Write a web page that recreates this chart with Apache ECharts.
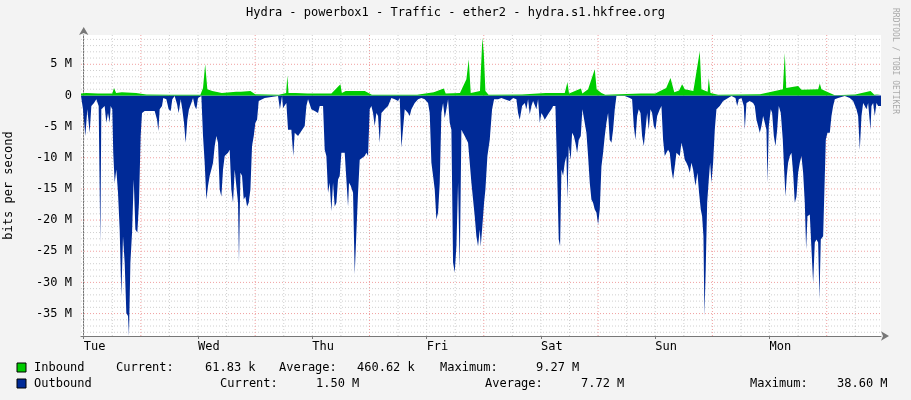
<!DOCTYPE html>
<html><head><meta charset="utf-8">
<script src="https://cdn.jsdelivr.net/npm/echarts@6/dist/echarts.min.js"></script>
<style>html,body{margin:0;padding:0;background:#f3f3f3}#c{width:911px;height:400px}</style>
</head><body><div id="c"></div>
<script>
// time in hours from Tue 00:00, values in Mbit/s
const outHours = [-0.57,-0.5,-0.15,0.34,0.76,1.25,1.6,2.16,2.65,3.14,3.49,3.7,4.4,4.75,5.1,5.45,5.66,6.0,6.2,6.5,6.85,7.2,7.55,7.9,8.25,8.6,8.95,9.3,9.5,9.8,10.15,10.5,10.85,11.26,11.6,11.96,12.24,12.8,14.9,15.4,15.67,15.95,16.44,16.7,17.35,17.84,18.26,18.6,19.1,19.6,19.94,20.36,20.7,21.06,21.4,21.76,22.1,22.6,22.95,23.3,23.65,24.0,24.7,25.05,25.4,25.75,26.1,26.45,26.8,27.15,27.5,27.85,28.2,28.55,28.9,29.25,29.6,30.3,30.65,31.0,31.35,31.7,32.05,32.4,32.6,32.9,33.24,33.6,33.94,34.3,34.64,35.0,35.34,35.7,36.04,36.4,36.74,38.0,40.8,41.2,41.64,41.85,42.55,42.9,43.6,44.0,44.3,45.0,45.7,46.4,46.75,47.1,47.8,48.5,49.2,49.55,50.25,50.6,50.95,51.3,51.65,52.0,52.35,52.7,53.05,53.4,53.75,54.1,54.8,55.15,55.5,55.7,56.06,56.55,56.9,57.25,57.6,57.95,58.3,59.0,59.35,59.7,60.05,60.4,60.75,61.1,61.45,61.8,62.15,62.5,63.2,63.9,64.6,65.3,66.0,66.35,66.7,67.05,67.4,68.1,68.45,68.8,69.5,70.2,70.9,71.6,72.3,72.65,73.0,73.35,73.7,74.05,74.4,74.75,75.1,75.45,75.8,76.15,76.5,76.85,77.2,77.55,77.9,78.25,78.6,78.95,79.3,79.65,80.0,80.7,81.4,81.75,82.1,82.45,82.8,83.15,83.36,83.64,84.06,84.34,84.76,85.25,85.74,86.16,87.0,87.7,88.4,89.45,90.15,90.85,91.2,91.55,91.76,92.04,92.6,92.95,93.3,93.65,94.0,94.35,95.05,95.4,95.75,96.1,96.45,96.8,97.5,98.2,98.55,99.04,99.39,99.74,100.02,100.3,100.65,101.0,101.35,101.56,101.84,102.26,102.54,102.9,103.24,103.6,103.94,104.36,104.7,105.06,105.55,105.9,106.25,106.6,106.95,107.3,107.65,108.0,108.35,108.7,109.05,109.4,109.75,110.1,110.45,110.8,111.15,111.5,111.85,113.6,114.65,115.14,115.5,115.84,116.2,116.54,116.9,117.24,117.6,117.94,118.3,118.64,119.0,119.34,119.7,120.04,120.4,120.96,121.3,121.65,122.0,122.35,122.7,123.05,123.4,123.75,124.1,124.45,124.8,125.15,125.5,125.85,126.2,126.55,126.9,127.25,127.6,127.95,128.44,128.86,129.2,129.56,129.84,130.12,130.33,130.6,130.9,131.24,131.52,131.8,132.15,132.5,132.85,133.2,133.55,134.25,135.3,136.0,136.84,137.2,137.54,138.1,138.6,138.8,139.15,139.85,140.55,140.9,141.25,141.6,141.95,142.3,142.65,143.0,143.35,143.56,143.84,144.26,144.54,144.9,145.24,145.6,145.94,146.36,146.78,147.06,147.34,147.62,147.9,148.25,148.6,148.95,149.3,149.65,150.0,150.35,150.7,151.05,151.4,151.68,151.96,152.45,152.8,153.15,153.5,153.85,154.2,154.48,154.76,155.25,155.6,155.81,156.16,156.65,157.0,157.35,157.7,158.4,159.8,160.85,161.55,162.25,162.6,162.95,163.3,163.65,164.0,164.35,164.7,165.19,165.4,165.75,166.1,166.45,166.8,167.15,167.4];
const outValues = [0.1,0.1,2.2,6.5,2.2,6.0,1.7,1.2,0.6,1.7,23.6,2.2,1.7,4.4,2.8,4.4,1.7,2.2,9.2,14.0,11.9,15.6,21.5,32.2,22.6,26.8,34.9,35.4,38.6,26.8,22.0,13.5,21.5,22.0,17.2,6.5,2.8,2.5,2.5,3.9,5.7,2.2,1.7,0.4,0.6,2.2,2.5,0.6,0.1,1.4,2.8,0.6,2.2,4.4,7.6,3.9,2.2,1.2,0.4,1.7,2.2,0.4,0.1,6.5,10.8,16.7,14.5,12.9,11.9,10.8,8.1,6.5,7.6,15.1,16.2,11.9,9.7,9.2,8.7,15.1,17.2,11.9,11.9,17.2,26.8,12.4,12.9,16.7,16.2,17.8,17.2,15.1,8.1,6.5,4.4,3.9,0.9,0.4,0.1,2.2,0.1,2.0,1.2,5.5,5.5,9.7,6.0,6.5,5.7,4.9,1.7,0.6,2.2,2.5,2.8,1.7,1.7,8.7,9.7,15.6,14.0,18.6,14.0,17.8,17.2,13.5,12.9,9.2,9.2,9.2,17.8,14.0,14.5,15.6,28.7,22.0,15.6,10.3,10.3,9.7,9.2,9.7,2.2,1.7,2.8,4.9,2.8,3.3,7.6,2.8,2.2,1.7,0.4,0.6,0.9,0.4,8.4,8.1,2.2,2.8,3.3,2.2,1.2,0.6,0.4,0.6,1.2,2.8,10.8,12.9,15.1,19.9,18.8,14.0,2.8,1.2,3.6,2.2,0.6,4.4,5.5,26.8,28.4,24.2,14.0,27.8,5.5,5.5,6.5,7.6,14.0,16.7,19.4,22.6,24.2,21.5,24.2,21.5,17.2,15.1,9.7,7.1,2.2,0.6,0.6,0.4,0.6,0.9,0.4,0.6,2.8,3.9,4.1,1.7,1.2,2.2,0.6,3.0,1.7,0.9,2.2,0.6,4.4,2.8,3.3,3.9,3.0,2.2,1.7,1.7,11.9,23.1,24.2,11.9,12.9,10.8,9.7,16.7,8.1,10.3,6.0,6.5,7.6,9.2,7.1,6.5,2.2,2.0,6.0,9.7,14.0,16.7,17.2,18.3,18.8,20.7,18.3,11.4,9.2,6.5,4.4,2.8,7.1,7.6,5.5,2.2,0.1,0.1,0.4,0.6,4.9,7.1,3.3,2.2,2.8,6.5,8.1,5.5,2.8,5.5,2.2,2.8,4.9,5.5,3.3,2.2,1.7,7.1,9.7,9.2,8.7,9.2,11.9,13.5,11.4,9.2,9.2,9.7,7.6,8.7,10.3,10.8,11.4,12.4,10.8,11.9,14.5,12.4,15.6,18.3,19.4,22.6,35.4,27.8,17.2,13.5,10.8,14.0,10.8,5.5,2.2,2.0,1.7,0.9,0.4,0.1,0.4,1.7,0.6,0.4,1.7,5.5,1.2,0.9,1.2,1.7,3.9,4.9,6.0,4.9,3.3,4.4,5.5,14.0,4.9,2.2,2.8,6.5,8.1,5.5,1.7,2.8,7.1,11.9,16.2,12.9,10.8,9.7,9.2,12.4,17.2,16.2,12.4,10.8,9.7,12.4,17.2,24.7,19.4,19.1,19.4,30.1,23.6,23.1,23.6,32.7,23.1,22.6,22.6,7.1,6.0,6.0,3.3,1.7,0.6,0.4,0.1,0.4,0.9,2.2,3.3,8.7,3.3,1.2,1.7,2.2,1.2,5.5,1.7,1.2,3.3,1.2,1.7,2.0,1.7];
const inHours = [-0.57,0.5,3.0,6.0,6.36,6.8,8.0,11.0,13.15,18.0,24.5,25.05,25.5,25.96,27.0,29.0,32.0,32.4,33.0,35.0,36.0,41.0,42.5,42.76,43.0,44.5,47.0,52.0,53.9,54.2,55.0,59.0,60.5,70.0,73.5,75.6,76.0,79.0,80.35,80.84,81.26,82.0,83.2,83.7,84.0,84.34,85.0,92.0,97.0,101.0,101.56,101.9,104.4,104.7,105.9,107.3,107.7,108.7,109.5,117.0,120.0,122.3,123.2,124.0,125.0,125.64,126.2,128.0,129.35,129.7,131.0,131.24,131.6,133.2,142.0,146.8,147.2,147.5,150.0,150.7,154.2,154.55,154.9,156.65,157.7,162.0,165.2,166.0,167.4];
const inValues = [0.3,0.4,0.3,0.3,1.2,0.4,0.5,0.4,0.15,0.1,0.1,1.2,5.0,1.0,0.7,0.4,0.6,0.8,0.6,0.7,0.2,0.1,0.4,3.2,0.4,0.4,0.3,0.3,1.8,0.4,0.7,0.7,0.1,0.1,0.5,1.1,0.3,0.4,2.6,5.8,0.4,0.5,0.7,9.27,6.8,0.7,0.1,0.15,0.4,0.4,2.1,0.3,1.1,0.3,1.0,4.2,1.0,0.4,0.1,0.3,0.3,1.2,2.8,0.5,0.8,1.8,1.0,0.7,7.1,1.0,0.6,2.8,0.4,0.1,0.2,1.0,6.8,1.2,1.5,0.9,1.0,1.9,1.0,0.4,0.05,0.15,0.7,0.1,0.2];
const dayHours = [0,24,48,72,96,120,144];
const dayLabels = ['Tue','Wed','Thu','Fri','Sat','Sun','Mon'];
const yTicks = [5,0,-5,-10,-15,-20,-25,-30,-35];
const legendRows = [
  {name:'Inbound', color:'#00cc00', cells:[['Current:',116],['61.83 k',205],['Average:',279],['460.62 k',357],['Maximum:',440],['9.27 M',536]]},
  {name:'Outbound', color:'#002a97', cells:[['Current:',220],['1.50 M',316],['Average:',485],['7.72 M',581],['Maximum:',750],['38.60 M',837]]}
];

const X0=-0.57, X1=167.4, Y0=-38.6, Y1=9.7;
const FONT='DejaVu Sans Mono';
const greyGrid=[], redGrid=[];
for(let h=0;h<=X1;h+=6){const a=(h%24===12)?redGrid:greyGrid;a.push([h,Y0],[h,Y1],[h,'-']);}
for(let v=-38;v<=9;v++){if(v===0)continue;const a=(v%5===0)?redGrid:greyGrid;a.push([X0,v],[X1,v],[X1,'-']);}
const gridSeries=(d,c)=>({type:'line',data:d,silent:true,showSymbol:false,connectNulls:false,z:0,lineStyle:{color:c,width:1,type:[1,2]}});

const graphics=[
  {type:'text',left:'center',top:7,style:{text:'Hydra - powerbox1 - Traffic - ether2 - hydra.s1.hkfree.org',font:'12px '+FONT,fill:'#000'}},
  {type:'text',x:899,y:8,rotation:-Math.PI/2,style:{text:'RRDTOOL / TOBI OETIKER',font:'8px '+FONT,fill:'#aaa',align:'left'}}
];
legendRows.forEach((r,i)=>{
  const y=362+i*16;
  graphics.push({type:'rect',shape:{x:17,y:y+1,width:9,height:9},style:{fill:r.color,stroke:'#000',lineWidth:1}});
  graphics.push({type:'text',x:34,y:y,style:{text:r.name,font:'12px '+FONT,fill:'#000'}});
  r.cells.forEach(c=>graphics.push({type:'text',x:c[1],y:y,style:{text:c[0],font:'12px '+FONT,fill:'#000'}}));
});

const chart=echarts.init(document.getElementById('c'));
chart.setOption({
  backgroundColor:'#f3f3f3',animation:false,
  grid:{left:81,right:30,top:35,bottom:64,backgroundColor:'#fff',show:true,borderWidth:0,outerBoundsMode:'none',containLabel:false},
  xAxis:{type:'value',min:X0,max:X1,splitLine:{show:false},
    axisLine:{onZero:false,lineStyle:{color:'#777'},symbol:['none','arrow'],symbolSize:[7,8],symbolOffset:[0,8]},
    axisTick:{show:true,customValues:dayHours,length:3,lineStyle:{color:'#777'}},
    axisLabel:{customValues:dayHours,formatter:v=>dayLabels[dayHours.indexOf(v)],color:'#000',margin:5,fontFamily:FONT,fontSize:12,align:'left'}},
  yAxis:{type:'value',min:Y0,max:Y1,splitLine:{show:false},
    axisLine:{show:true,lineStyle:{color:'#777'},symbol:['none','arrow'],symbolSize:[7,8],symbolOffset:[0,8]},
    axisTick:{show:false},
    axisLabel:{customValues:yTicks,formatter:v=>v===0?'0':v+' M',fontFamily:FONT,fontSize:12,color:'#000',margin:9},
    name:'bits per second',nameLocation:'middle',nameGap:66,nameTextStyle:{fontFamily:FONT,fontSize:12,color:'#000'}},
  graphic:graphics,
  series:[
    gridSeries(greyGrid,'#cfcfcf'),
    gridSeries(redGrid,'#f0a0a0'),
    {type:'line',data:outHours.map((h,i)=>[h,-outValues[i]]),showSymbol:false,lineStyle:{width:0},areaStyle:{color:'#002a97',opacity:1},z:2},
    {type:'line',data:inHours.map((h,i)=>[h,inValues[i]]),showSymbol:false,lineStyle:{width:0},areaStyle:{color:'#00cc00',opacity:1},z:2}
  ]
});
</script></body></html>
